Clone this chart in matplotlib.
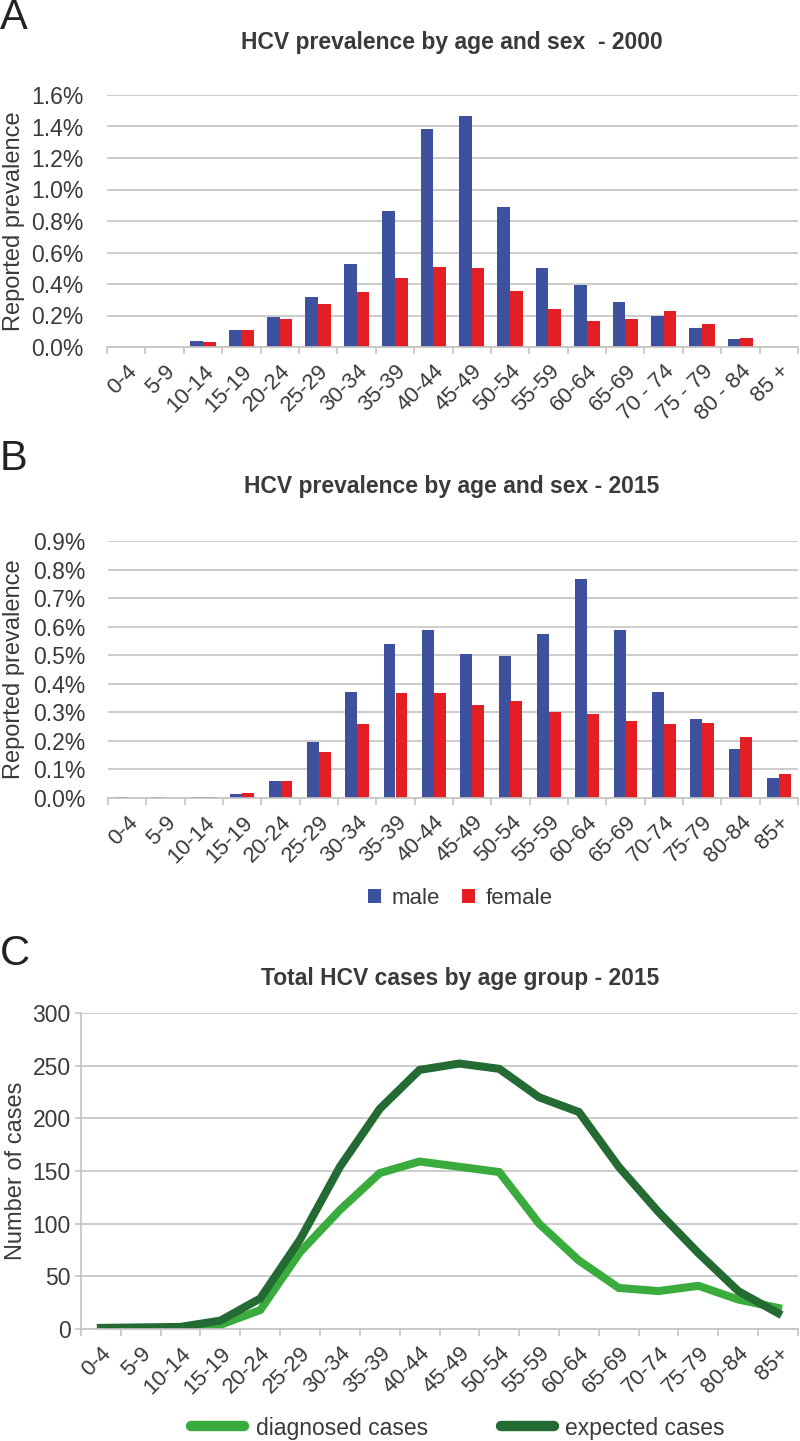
import matplotlib
matplotlib.use("Agg")
import matplotlib.pyplot as plt
import numpy as np

plt.rcParams['font.family'] = ['Liberation Sans', 'DejaVu Sans']

# age groups
idades_a = ["0-4", "5-9", "10-14", "15-19", "20-24", "25-29", "30-34", "35-39",
            "40-44", "45-49", "50-54", "55-59", "60-64", "65-69", "70 - 74",
            "75 - 79", "80 - 84", "85 +"]
idades_b = ["0-4", "5-9", "10-14", "15-19", "20-24", "25-29", "30-34", "35-39",
            "40-44", "45-49", "50-54", "55-59", "60-64", "65-69", "70-74",
            "75-79", "80-84", "85+"]

# prevalencia (%) 2000
homens_2000 = [0.0, 0.0, 0.04, 0.11, 0.19, 0.32, 0.53, 0.865, 1.385, 1.467,
               0.89, 0.50, 0.394, 0.284, 0.197, 0.12, 0.049, 0.0]
mulheres_2000 = [0.0, 0.0, 0.03, 0.11, 0.18, 0.27, 0.35, 0.44, 0.51, 0.50,
                 0.357, 0.24, 0.167, 0.176, 0.23, 0.148, 0.059, 0.0]

# prevalencia (%) 2015
homens_2015 = [0.003, 0.003, 0.005, 0.013, 0.058, 0.195, 0.37, 0.54, 0.587, 0.505,
               0.497, 0.575, 0.766, 0.587, 0.372, 0.277, 0.172, 0.07]
mulheres_2015 = [0.001, 0.001, 0.004, 0.019, 0.06, 0.161, 0.26, 0.368, 0.368, 0.324,
                 0.338, 0.30, 0.293, 0.268, 0.26, 0.264, 0.215, 0.084]

# casos 2015
diagnosticados = [1, 1, 0.5, 4, 18, 73, 113, 148, 159, 154, 149, 100, 65, 39, 36, 41, 28, 20]
esperados = [1, 1.5, 2, 8, 29, 85, 154, 209, 246, 252, 247, 220, 206, 154, 111, 72, 36, 15]

AZUL = "#3e519f"
VERMELHO = "#e31e25"
VERDE_CLARO = "#3aab3d"
VERDE_ESCURO = "#246a33"
CINZA = "#c4c4c4"
TEXTO = "#3a3a3a"

W, H = 800, 1441
fig = plt.figure(figsize=(W / 100, H / 100), dpi=100)


def eixo(l, t, r, b):
    return fig.add_axes([l / W, 1 - b / H, (r - l) / W, (b - t) / H])


def px(x, y):
    return x / W, 1 - y / H


def estilo(ax, labels, ypad):
    for s in ["top", "right", "left"]:
        ax.spines[s].set_visible(False)
    ax.spines["bottom"].set_color(CINZA)
    ax.spines["bottom"].set_linewidth(1.2)
    ax.set_xlim(-0.5, len(labels) - 0.5)
    ax.set_xticks(np.arange(len(labels)))
    ax.set_xticklabels(labels, rotation=45, ha="right", rotation_mode="anchor",
                       fontsize=16, color=TEXTO)
    ax.set_xticks(np.arange(len(labels) + 1) - 0.5, minor=True)
    ax.tick_params(axis="x", which="major", length=0, pad=10)
    ax.tick_params(axis="x", which="minor", length=5, color=CINZA, width=1.2)
    ax.tick_params(axis="y", length=0, pad=ypad, labelsize=16.5, labelcolor=TEXTO)
    ax.yaxis.grid(True, color=CINZA, linewidth=1.2)
    ax.set_axisbelow(True)


def barras(ax, homens, mulheres, larg):
    x = np.arange(len(homens))
    ax.bar(x - larg / 2, homens, larg, color=AZUL, label="male")
    ax.bar(x + larg / 2, mulheres, larg, color=VERMELHO, label="female")


# --- A ---
axA = eixo(107, 95, 798, 347)
barras(axA, homens_2000, mulheres_2000, 0.33)
axA.set_ylim(0, 1.6)
axA.set_yticks(np.arange(0, 1.61, 0.2))
axA.set_yticklabels(["%.1f%%" % v for v in np.arange(0, 1.61, 0.2)])
estilo(axA, idades_a, 17)

# --- B ---
axB = eixo(108, 541, 798, 798)
barras(axB, homens_2015, mulheres_2015, 0.31)
axB.set_ylim(0, 0.9)
axB.set_yticks(np.arange(0, 0.91, 0.1))
axB.set_yticklabels(["%.1f%%" % v for v in np.arange(0, 0.91, 0.1)])
estilo(axB, idades_b, 16)
axB.legend(loc="center", bbox_to_anchor=px(460, 898), bbox_transform=fig.transFigure,
           ncol=2, frameon=False, fontsize=16, handlelength=0.6, handleheight=0.6,
           handletextpad=0.45, columnspacing=1.0, labelcolor=TEXTO)

# --- C ---
axC = eixo(81, 1013, 798, 1329)
x = np.arange(len(idades_b))
axC.plot(x, diagnosticados, color=VERDE_CLARO, lw=5.8, label="diagnosed cases",
         solid_joinstyle="miter")
axC.plot(x, esperados, color=VERDE_ESCURO, lw=5.8, label="expected cases",
         solid_joinstyle="miter")
axC.set_ylim(0, 300)
axC.set_yticks(np.arange(0, 301, 50))
estilo(axC, idades_b, 3)
axC.spines["left"].set_visible(True)
axC.spines["left"].set_color(CINZA)
axC.spines["left"].set_linewidth(1.2)
axC.tick_params(axis="y", length=4.5, color=CINZA, width=1.2)
axC.legend(loc="center", bbox_to_anchor=px(458, 1428), bbox_transform=fig.transFigure,
           ncol=2, frameon=False, fontsize=16.5, handlelength=2.3,
           handletextpad=0.5, columnspacing=3.2, labelcolor=TEXTO)
for linha in axC.get_legend().get_lines():
    linha.set_linewidth(7.5)
    linha.set_solid_capstyle("round")

# titulos
fig.text(*px(452, 43), "HCV prevalence by age and sex  - 2000", ha="center", va="center",
         fontsize=16.5, fontweight="bold", color=TEXTO)
fig.text(*px(452, 487), "HCV prevalence by age and sex - 2015", ha="center", va="center",
         fontsize=16.5, fontweight="bold", color=TEXTO)
fig.text(*px(460, 978), "Total HCV cases by age group - 2015", ha="center", va="center",
         fontsize=16.5, fontweight="bold", color=TEXTO)

# eixos y
fig.text(*px(14, 221), "Reported prevalence", rotation=90, ha="center", va="center",
         fontsize=17, color=TEXTO)
fig.text(*px(14, 669), "Reported prevalence", rotation=90, ha="center", va="center",
         fontsize=17, color=TEXTO)
fig.text(*px(16, 1171), "Number of cases", rotation=90, ha="center", va="center",
         fontsize=17, color=TEXTO)

# letras
for letra, y in [("A", 18), ("B", 459), ("C", 954)]:
    fig.text(*px(0, y), letra, ha="left", va="center", fontsize=30, color="#222222")

fig.savefig("out.png", dpi=100)
